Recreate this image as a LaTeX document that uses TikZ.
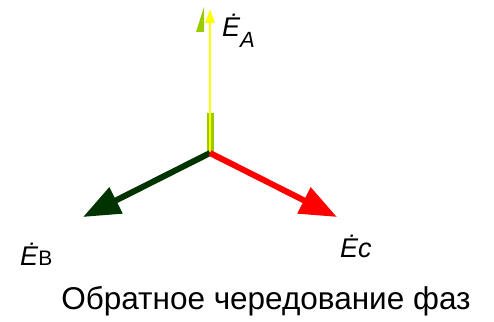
\documentclass[tikz,border=0pt]{standalone}
\usepackage{fontspec}
\setmainfont{Liberation Sans}
\usetikzlibrary{arrows.meta}
\definecolor{phaseA}{RGB}{255,255,0}
\definecolor{phaseB}{RGB}{0,51,0}
\definecolor{phaseC}{RGB}{255,0,0}
\definecolor{olive}{RGB}{153,204,0}
\tikzstyle{phasor} = [line width=6pt,-{Triangle[length=37pt,width=28pt]}]
\tikzstyle{every node}=[font=\fontsize{27}{32}\selectfont,inner sep=0pt]

\begin{document}
\begin{tikzpicture}[x=1pt,y=-1pt]
	\useasboundingbox (0,0) rectangle (494,321);
	\coordinate (O) at (210,153);
	\coordinate (A) at (210,9);
	\coordinate (B) at (83,217);
	\coordinate (C) at (337,217);
	\fill[olive] (206.5,113) rectangle (213.5,153);
	\fill[olive] (196,32) -- (204,7) -- (204,32) -- cycle;
	\draw[line width=2.5pt,phaseA,-{Triangle[length=14pt,width=9pt]}] (O) -- (A);
	\draw[phasor,phaseB] (O) -- (B);
	\draw[phasor,phaseC] (O) -- (C);
	\node[anchor=base west] (EA) at (222,37) {\itshape Ė\raisebox{-11pt}{\fontsize{22}{22}\selectfont A}};
	\node[anchor=base west] (EB) at (20,265) {\itshape Ė\/\upshape\fontsize{21}{21}\selectfont В};
	\node[anchor=base west] (EC) at (340,257) {\itshape Ėс};
	\node[anchor=base,font=\fontsize{31.5}{36}\selectfont] (cap) at (266,309) {Обратное чередование фаз};
\end{tikzpicture}
\end{document}
